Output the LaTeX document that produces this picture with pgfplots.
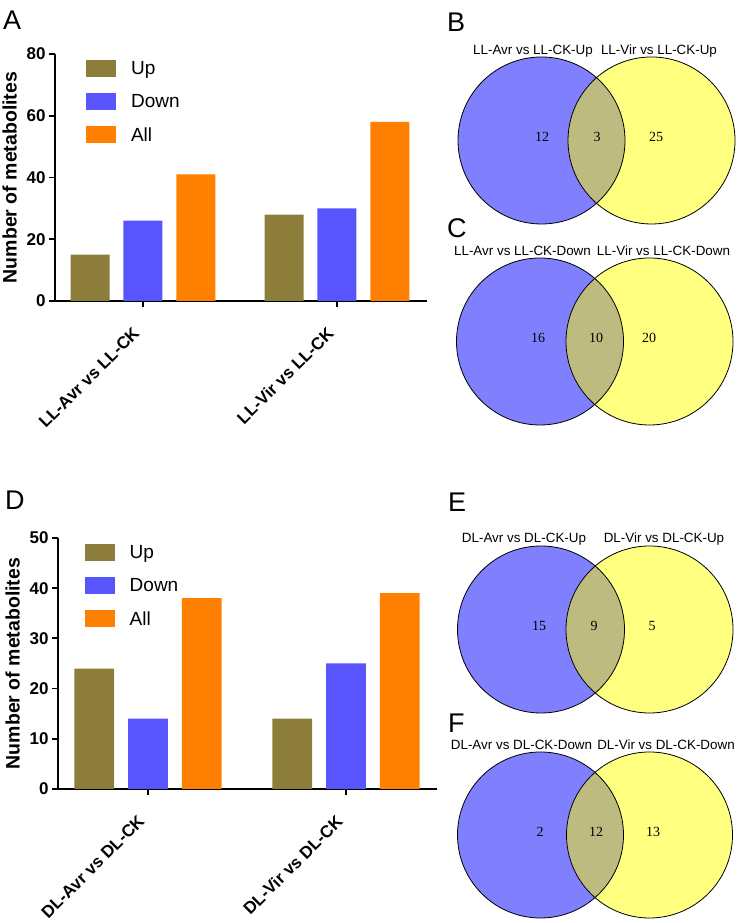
\documentclass[border=0pt]{standalone}
\usepackage{pgfplots}
\pgfplotsset{compat=1.18}
\usepackage{fontspec}
\setmainfont{Liberation Sans}
\newfontfamily\timesfont{Liberation Serif}
\definecolor{cUp}{RGB}{140,125,58}
\definecolor{cDown}{RGB}{88,85,255}
\definecolor{cAll}{RGB}{255,128,0}
\definecolor{vBlue}{RGB}{128,128,255}
\definecolor{vYel}{RGB}{255,255,128}
\definecolor{vOver}{RGB}{190,187,128}
\pgfplotsset{
  barpanel/.style={
    scale only axis, anchor=south west, clip=false,
    axis lines=left, axis line style={-, line width=1.8pt},
    ymin=0, xmin=-0.4536, xmax=1.464,
    xtick={0,1}, minor tick num=0,
    tick style={black, line width=1.8pt}, tick align=outside, major tick length=6pt,
    /pgf/number format/assume math mode=true,
    ticklabel style={font=\fontsize{17}{17}\selectfont\bfseries},
    xticklabel style={xshift=-11pt, yshift=-14pt, rotate=45, anchor=north east},
    ylabel={Number of metabolites},
    ylabel style={font=\fontsize{19.5}{20}\selectfont\bfseries, yshift=3pt},
    ybar, bar width=0.201,
    legend style={draw=none, fill=none, font=\fontsize{19}{19}\selectfont,
      anchor=north west, row sep=14.5pt, inner sep=0pt},
    legend image code/.code={\fill[##1] (0pt,-8.5pt) rectangle (30pt,8.5pt); \path (43pt,0pt);},
    legend cell align=left,
  },
  vennnum/.style={only marks, mark=none, nodes near coords, point meta=explicit symbolic,
    nodes near coords style={font=\timesfont\fontsize{14}{14}\selectfont, anchor=center}},
}
\newcommand{\vtitle}{\fontsize{13.4}{14}\selectfont}
\newcommand{\plet}{\fontsize{27}{27}\selectfont}
\begin{document}
\begin{tikzpicture}
\useasboundingbox (0,0) rectangle (737pt,923pt);
% Panel A
\begin{axis}[barpanel, at={(55pt,622pt)}, width=372pt, height=247pt, ymax=80,
  ytick={0,20,40,60,80},
  xticklabels={LL-Avr vs LL-CK, LL-Vir vs LL-CK},
  legend style={at={(0.083,0.98)}}]
\addplot[fill=cUp, draw=none, bar shift=-0.273] coordinates {(0,15) (1,28)};
\addlegendentry{Up}
\addplot[fill=cDown, draw=none, bar shift=0] coordinates {(0,26) (1,30)};
\addlegendentry{Down}
\addplot[fill=cAll, draw=none, bar shift=0.273] coordinates {(0,41) (1,58)};
\addlegendentry{All}
\end{axis}
% Panel D
\begin{axis}[barpanel, at={(58pt,134pt)}, width=379pt, height=251pt, ymax=50,
  xmin=-0.4545, xmax=1.4596,
  ytick={0,10,20,30,40,50},
  xticklabels={DL-Avr vs DL-CK, DL-Vir vs DL-CK},
  legend style={at={(0.07,0.98)}}]
\addplot[fill=cUp, draw=none, bar shift=-0.271] coordinates {(0,24) (1,14)};
\addlegendentry{Up}
\addplot[fill=cDown, draw=none, bar shift=0] coordinates {(0,14) (1,25)};
\addlegendentry{Down}
\addplot[fill=cAll, draw=none, bar shift=0.271] coordinates {(0,38) (1,39)};
\addlegendentry{All}
\end{axis}
% Venn diagrams and panel letters
\begin{axis}[anchor=south west, at={(0pt,0pt)}, x=1pt, y=1pt,
  xmin=0, xmax=737, ymin=0, ymax=923, hide axis, clip=false]
% B
\fill[vBlue] (axis cs:541.5,782.5) circle[radius=83.5];
\fill[vYel] (axis cs:651.5,782.5) circle[radius=83.5];
\begin{scope}
\clip (axis cs:541.5,782.5) circle[radius=83.5];
\fill[vOver] (axis cs:651.5,782.5) circle[radius=83.5];
\end{scope}
\draw[line width=0.8pt] (axis cs:541.5,782.5) circle[radius=83.5];
\draw[line width=0.8pt] (axis cs:651.5,782.5) circle[radius=83.5];
\addplot[vennnum] coordinates {(542,786)[12] (597,786)[3] (656,786)[25]};
% C
\fill[vBlue] (axis cs:540,581.5) circle[radius=83.5];
\fill[vYel] (axis cs:649.5,581.5) circle[radius=83.5];
\begin{scope}
\clip (axis cs:540,581.5) circle[radius=83.5];
\fill[vOver] (axis cs:649.5,581.5) circle[radius=83.5];
\end{scope}
\draw[line width=0.8pt] (axis cs:540,581.5) circle[radius=83.5];
\draw[line width=0.8pt] (axis cs:649.5,581.5) circle[radius=83.5];
\addplot[vennnum] coordinates {(538,585)[16] (596,585)[10] (649,585)[20]};
% E
\fill[vBlue] (axis cs:541,293.5) circle[radius=83.5];
\fill[vYel] (axis cs:649.5,293.5) circle[radius=83.5];
\begin{scope}
\clip (axis cs:541,293.5) circle[radius=83.5];
\fill[vOver] (axis cs:649.5,293.5) circle[radius=83.5];
\end{scope}
\draw[line width=0.8pt] (axis cs:541,293.5) circle[radius=83.5];
\draw[line width=0.8pt] (axis cs:649.5,293.5) circle[radius=83.5];
\addplot[vennnum] coordinates {(539,297)[15] (594,297)[9] (652,297)[5]};
% F
\fill[vBlue] (axis cs:540.5,88) circle[radius=83];
\fill[vYel] (axis cs:649.5,88) circle[radius=83];
\begin{scope}
\clip (axis cs:540.5,88) circle[radius=83];
\fill[vOver] (axis cs:649.5,88) circle[radius=83];
\end{scope}
\draw[line width=0.8pt] (axis cs:540.5,88) circle[radius=83];
\draw[line width=0.8pt] (axis cs:649.5,88) circle[radius=83];
\addplot[vennnum] coordinates {(540,91)[2] (596,91)[12] (653,91)[13]};
% Venn titles
\node[font=\vtitle] at (axis cs:533,872) {LL-Avr vs LL-CK-Up};
\node[font=\vtitle] at (axis cs:659,872) {LL-Vir vs LL-CK-Up};
\node[font=\vtitle] at (axis cs:522.5,672) {LL-Avr vs LL-CK-Down};
\node[font=\vtitle] at (axis cs:663.5,672) {LL-Vir vs LL-CK-Down};
\node[font=\vtitle] at (axis cs:524,384) {DL-Avr vs DL-CK-Up};
\node[font=\vtitle] at (axis cs:664,384) {DL-Vir vs DL-CK-Up};
\node[font=\vtitle] at (axis cs:521.5,178) {DL-Avr vs DL-CK-Down};
\node[font=\vtitle] at (axis cs:666,178) {DL-Vir vs DL-CK-Down};
% panel letters
\node[font=\plet, anchor=base west, inner sep=0pt] at (axis cs:3,893) {A};
\node[font=\plet, anchor=base west, inner sep=0pt] at (axis cs:447,891) {B};
\node[font=\plet, anchor=base west, inner sep=0pt] at (axis cs:447,685) {C};
\node[font=\plet, anchor=base west, inner sep=0pt] at (axis cs:5,413) {D};
\node[font=\plet, anchor=base west, inner sep=0pt] at (axis cs:448,411) {E};
\node[font=\plet, anchor=base west, inner sep=0pt] at (axis cs:448,190) {F};
\end{axis}
\end{tikzpicture}
\end{document}
